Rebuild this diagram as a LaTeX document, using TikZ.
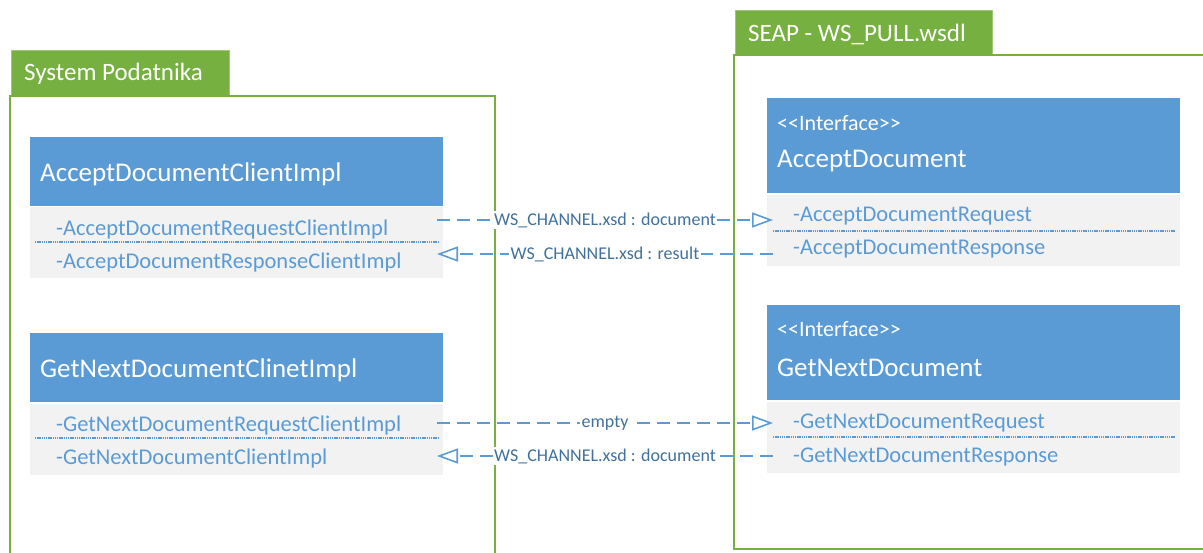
\documentclass[tikz,border=0pt]{standalone}
\usepackage{fontspec}
\setmainfont{Carlito}
\usetikzlibrary{arrows.meta}
\definecolor{grn}{HTML}{76B041}
\definecolor{blu}{HTML}{5B9BD5}
\definecolor{gry}{HTML}{F2F2F2}
\definecolor{lbl}{HTML}{41719C}
\begin{document}
\begin{tikzpicture}[x=1pt,y=-1pt,
  tab/.style={fill=grn, draw=grn!70!white, line width=0.8pt},
  frame/.style={draw=grn, line width=1.2pt},
  hdr/.style={fill=blu},
  attrbg/.style={fill=gry},
  sep/.style={draw=blu, line width=1.8pt, dash pattern=on 1.3pt off 0.9pt},
  tabtext/.style={anchor=west, inner sep=0, text=white, font=\fontsize{25}{29}\selectfont},
  ttl/.style={anchor=west, inner sep=0, text=white, font=\fontsize{27}{31}\selectfont},
  stereo/.style={anchor=west, inner sep=0, text=white, font=\fontsize{22}{25}\selectfont},
  attr/.style={anchor=west, inner sep=0, text=blu, font=\fontsize{22.5}{26}\selectfont},
  conn/.style={draw=blu, line width=2pt, dash pattern=on 13pt off 7pt,
    -{Triangle[open, length=21pt, width=15pt, line width=1.6pt]}},
  clbl/.style={midway, fill=white, inner sep=1.5pt, text=lbl, font=\fontsize{18}{21}\selectfont}
]
\useasboundingbox (0,0) rectangle (1203,552);

% containers
\path[tab] (11,50) rectangle (229,96);
\node[tabtext] (tabL) at (24,74) {System Podatnika};
\path[frame] (10,96) rectangle (495,560);

\path[tab] (735,10) rectangle (992,55);
\node[tabtext] (tabR) at (748,34) {SEAP - WS\_PULL.wsdl};
\path[frame] (734,55) rectangle (1215,549);

% left class 1
\path[hdr] (30,137) rectangle (443,206);
\path[attrbg] (30,207) rectangle (443,278);
\node[ttl] (lt1) at (40,174) {AcceptDocumentClientImpl};
\node[attr] (la1) at (56,229) {-AcceptDocumentRequestClientImpl};
\node[attr] (la2) at (56,262) {-AcceptDocumentResponseClientImpl};
\draw[sep] (35,242) -- (438,242);

% left class 2
\path[hdr] (30,333) rectangle (443,402);
\path[attrbg] (30,404) rectangle (443,475);
\node[ttl] (lt2) at (40,370) {GetNextDocumentClinetImpl};
\node[attr] (lb1) at (56,425) {-GetNextDocumentRequestClientImpl};
\node[attr] (lb2) at (56,458) {-GetNextDocumentClientImpl};
\draw[sep] (35,438) -- (438,438);

% right class 1
\path[hdr] (767,98) rectangle (1180,193);
\path[attrbg] (767,195) rectangle (1180,266);
\node[stereo] (rs1) at (777,123) {<\kern0pt<Interface>\kern0pt>};
\node[ttl] (rt1) at (777,161) {AcceptDocument};
\node[attr] (ra1) at (793,216) {-AcceptDocumentRequest};
\node[attr] (ra2) at (793,249) {-AcceptDocumentResponse};
\draw[sep] (773,231) -- (1175,231);

% right class 2
\path[hdr] (767,305) rectangle (1180,400);
\path[attrbg] (767,402) rectangle (1180,473);
\node[stereo] (rs2) at (777,329) {<\kern0pt<Interface>\kern0pt>};
\node[ttl] (rt2) at (777,368) {GetNextDocument};
\node[attr] (rb1) at (793,423) {-GetNextDocumentRequest};
\node[attr] (rb2) at (793,457) {-GetNextDocumentResponse};
\draw[sep] (773,437) -- (1175,437);

% connector end points
\coordinate (pa1) at (437,220);
\coordinate (qa1) at (773,220);
\coordinate (pa2) at (437,254);
\coordinate (qa2) at (773,254);
\coordinate (pb1) at (437,423);
\coordinate (qb1) at (773,423);
\coordinate (pb2) at (437,456);
\coordinate (qb2) at (773,456);

\draw[conn] (pa1) -- node[clbl] (c1) {WS\_CHANNEL.xsd : document} (qa1);
\draw[conn] (qa2) -- node[clbl] (c2) {WS\_CHANNEL.xsd : result} (pa2);
\draw[conn] (pb1) -- node[clbl] (c3) {empty} (qb1);
\draw[conn] (qb2) -- node[clbl] (c4) {WS\_CHANNEL.xsd : document} (pb2);
\end{tikzpicture}
\end{document}
